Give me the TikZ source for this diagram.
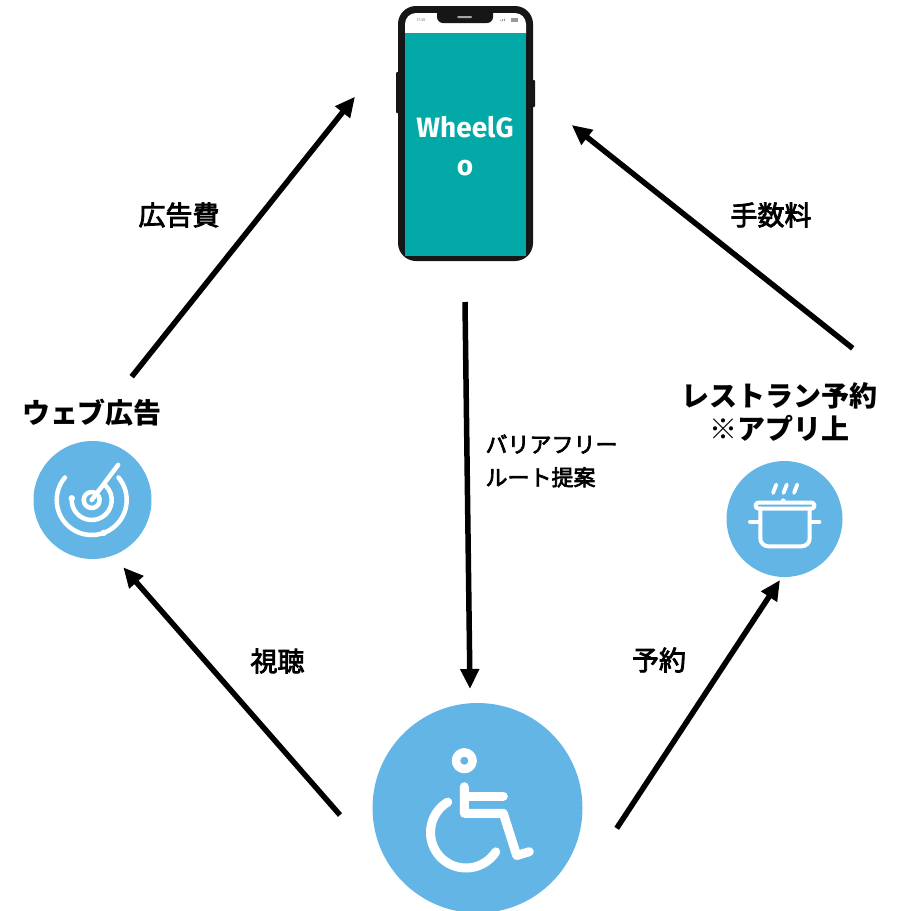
\documentclass[tikz,border=0pt]{standalone}
\usepackage{fontspec}
\newfontfamily\jp{Noto Sans CJK JP}
\newfontfamily\jpmid[FakeBold=3]{Noto Sans CJK JP}
\newfontfamily\latin{Fira Sans}
\usetikzlibrary{arrows.meta}
\definecolor{iconblue}{RGB}{99,181,229}
\definecolor{screenteal}{RGB}{2,169,166}
\definecolor{phoneblack}{RGB}{22,22,22}
\tikzset{
  flow/.style={line width=5.5pt, -{Triangle[length=20pt,width=18pt]}},
  bubble/.style={circle, fill=iconblue, inner sep=0pt},
  glyph/.style={draw=white, line cap=round, line join=round},
  title/.style={font=\jp\bfseries\fontsize{28}{33}\selectfont, align=center},
  flowlabel/.style={font=\jpmid\fontsize{27}{27}\selectfont},
}
\begin{document}
\begin{tikzpicture}[x=1pt, y=-1pt]
\useasboundingbox (0,0) rectangle (897,911);
\clip (0,0) rectangle (897,911);

% ---------- smartphone ----------
\fill[phoneblack, rounded corners=1pt] (396,72) rectangle (400,113);
\fill[phoneblack, rounded corners=1pt] (531,80) rectangle (535,107);
\fill[phoneblack, rounded corners=18pt] (398,6) rectangle (533,261);
\fill[white, rounded corners=11pt] (405,13) rectangle (526,45);
\fill[screenteal] (405,33) rectangle (526,256);
\fill[phoneblack, rounded corners=6pt] (437,6) rectangle (493,23);
\fill[gray!70, rounded corners=1pt] (457,16) rectangle (472,18);
\node[font=\latin\fontsize{4}{4}\selectfont, text=gray] (clock) at (421,20) {17:30};
\fill[gray!80] (500,21) rectangle (501,20) (502,21) rectangle (503,19) (504,21) rectangle (505,18.5);
\fill[gray!80] (511,21.5) rectangle (518,18);
\node[font=\latin\bfseries\fontsize{28}{38}\selectfont, text=white, align=center]
  (app) at (465,146) {WheelG\\o};

% ---------- circles ----------
\node[bubble, minimum size=210pt] (user) at (477.5,808) {};
\node[bubble, minimum size=118pt] (web) at (92.5,500) {};
\node[bubble, minimum size=116pt] (rest) at (784.5,519) {};

% wheelchair user
\draw[glyph, line width=8.5pt] (464.3,760.7) circle (8.3);
\draw[glyph, line width=9pt] (464.3,786.7) -- (464.3,813.3) -- (503.3,813.3)
      -- (516.7,855.5) -- (529.3,851.7);
\draw[glyph, line width=9pt] (464.3,796) -- (503.3,796);
\draw[glyph, line width=9pt] ([shift={(-121:35.5)}]466,832.5)
      arc[start angle=-121, end angle=-327, radius=35.5];

% radar
\coordinate (rc) at (91.7,500);
\draw[glyph, line width=4.5pt] ([shift={(-70:8)}]rc) arc[start angle=-70, end angle=-390, radius=8];
\draw[glyph, line width=4.5pt] ([shift={(-175:20)}]rc) arc[start angle=-175, end angle=-405, radius=20];
\draw[glyph, line width=4.5pt] ([shift={(-140:35)}]rc) arc[start angle=-140, end angle=-400, radius=35];
\draw[glyph, line width=4.5pt] (rc) -- ++(-53:44);
\fill[white] ([shift={(-175:20)}]rc) circle (3.2);
\fill[white] ([shift={(70:35)}]rc) circle (3.2);

% cooking pot
\draw[glyph, line width=4pt, rounded corners=2.5pt] (755.7,502.7) rectangle (814.3,508.5);
\fill[white] (783.3,501) circle (2.6);
\draw[glyph, line width=4pt, rounded corners=8pt] (760.3,508.5) -- (760.3,546.3)
      -- (809.7,546.3) -- (809.7,508.5);
\draw[glyph, line width=4pt] (750,521.7) -- (760.3,521.7);
\draw[glyph, line width=4pt] (809.7,521.7) -- (819.3,521.7);
\draw[glyph, line width=3.8pt] (773,493) -- (776.3,484.5);
\draw[glyph, line width=3.8pt] (783.5,493) -- (786.8,484.5);
\draw[glyph, line width=3.8pt] (794,493) -- (797.3,484.5);

% ---------- titles ----------
\node[title] (webtitle) at (92,413) {ウェブ広告};
\node[title] (resttitle) at (779,412) {レストラン予約\\※アプリ上};

% ---------- flows ----------
\coordinate (adFrom) at (131.7,376.7);  \coordinate (adTo) at (355,96.7);
\coordinate (feeFrom) at (852.7,348.3); \coordinate (feeTo) at (571.7,125);
\coordinate (routeFrom) at (465,302);   \coordinate (routeTo) at (470,689);
\coordinate (viewFrom) at (340,815);    \coordinate (viewTo) at (123.3,567.3);
\coordinate (bookFrom) at (616.7,828.3);\coordinate (bookTo) at (780,580);

\draw[flow] (adFrom) -- (adTo);
\draw[flow] (feeFrom) -- (feeTo);
\draw[flow] (routeFrom) -- (routeTo);
\draw[flow] (viewFrom) -- (viewTo);
\draw[flow] (bookFrom) -- (bookTo);

\node[flowlabel] (adfee) at (179,215) {広告費};
\node[flowlabel] (commission) at (771,215) {手数料};
\node[flowlabel] (watch) at (277.5,661) {視聴};
\node[flowlabel] (booking) at (659,660) {予約};
\node[font=\jpmid\fontsize{22}{33}\selectfont, align=left, anchor=west]
  (route) at (482,461) {バリアフリー\\ルート提案};
\end{tikzpicture}
\end{document}
